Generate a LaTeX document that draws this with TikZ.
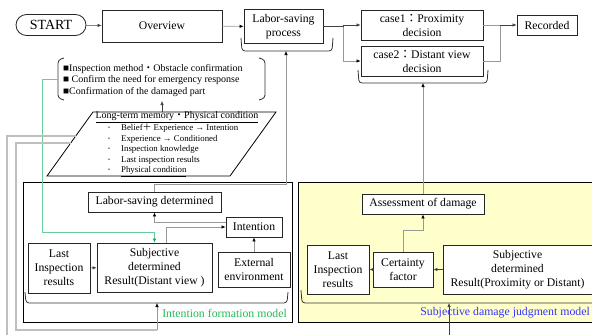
\documentclass[tikz,border=0pt]{standalone}
\usepackage{fontspec}
\setmainfont{Liberation Serif}
\newfontfamily\cjk{Noto Sans CJK JP}
\usetikzlibrary{arrows.meta,calc}

\definecolor{panelyellow}{HTML}{FFFFCC}
\definecolor{linegreen}{HTML}{66CC99}
\definecolor{arrowgreen}{HTML}{11AA55}
\definecolor{textgreen}{HTML}{22BB55}
\definecolor{textblue}{HTML}{3333FF}
\newcommand\itemdot{\makebox[13pt][l]{\raisebox{0.8pt}{\fontsize{5.5}{6}\selectfont•}}}

\tikzstyle{box}=[draw=black!85, line width=0.8pt, fill=white, align=center, inner sep=0pt, font=\fontsize{11.7}{14}\selectfont]
\tikzstyle{terminal}=[box, rounded corners=10.5pt, font=\fontsize{14}{16}\selectfont]
\tikzstyle{flow}=[draw=black!75, line width=0.6pt, -{Latex[length=4pt,width=3.4pt]}]
\tikzstyle{feed}=[draw=black!40, line width=0.6pt, -{Latex[length=4pt,width=3.4pt,color=black]}]
\tikzstyle{plain}=[draw=black!40, line width=0.6pt]
\tikzstyle{loop}=[draw=black!25, line width=1.1pt]
\tikzstyle{greenflow}=[draw=linegreen, line width=0.6pt, -{Latex[length=4pt,width=3.4pt,color=arrowgreen]}]
\tikzstyle{bracket}=[draw=black!80, line width=0.8pt, rounded corners=3pt]
\tikzstyle{modellabel}=[inner sep=0pt, anchor=east, font=\fontsize{11.8}{14}\selectfont]

\begin{document}
\begin{tikzpicture}[x=1pt, y=-1pt]
    \useasboundingbox (0,0) rectangle (592,335);
% Panels
    \fill[panelyellow] (298,182) rectangle (592,322);
    \draw[line width=0.8pt] (592,182) -- (298,182) -- (298,322) -- (592,322);
    \draw[line width=0.8pt] (23,182) rectangle (292,322);
% Brackets
    \draw[bracket] (241,38) -- (242,51) -- (332,51) -- (333,38);
    \draw[bracket] (358,70) -- (359,83) -- (487,83) -- (488,70);
    \draw[bracket] (64,58) -- (58,60) -- (58,98) -- (64,100);
    \draw[bracket] (259,58) -- (265,60) -- (265,98) -- (259,100);
    \draw[bracket] (25,292) -- (26,303) -- (287,303) -- (288,292);
    \draw[bracket] (301,290) -- (302,303) -- (595,303);
    \coordinate (lbrk) at (286,51);
    \coordinate (cbrk) at (423,83);
    \coordinate (listleft) at (58,79);
    \coordinate (listbot) at (162,101);
    \coordinate (ibrk) at (157,303);
    \coordinate (jbrk) at (449,303);
    \coordinate (jin) at (449,335);
% Top row
    \node[terminal, minimum width=70pt, minimum height=21pt] (start) at (51,25) {START};
    \node[box, minimum width=120pt, minimum height=32pt] (overview) at (162,26) {Overview};
    \node[box, minimum width=79pt, minimum height=34pt] (labor) at (283.5,26.5) {Labor-saving\\process};
    \node[box, minimum width=122pt, minimum height=30pt] (case1) at (422,25) {case1{\cjk ：}Proximity\\decision};
    \node[box, minimum width=122pt, minimum height=30pt] (case2) at (422,61) {case2{\cjk ：}Distant view\\decision};
    \node[box, minimum width=60pt, minimum height=20pt] (recorded) at (547,25) {Recorded};
% Check list
    \node[anchor=north west, align=left, inner sep=0pt, font=\fontsize{10}{11.5}\selectfont] (checks) at (63,64)
        {■Inspection method{\cjk ・}Obstacle confirmation\\■ Confirm the need for emergency response\\■Confirmation of the damaged part};
% Long-term memory
    \draw[line width=0.8pt] (93,112) -- (276,112) -- (230,176) -- (47,176) -- cycle;
    \coordinate (ltmtop) at (162,112);
    \coordinate (ltmA) at (75.8,136);
    \coordinate (ltmB) at (70.7,143);
    \node[inner sep=0pt, font=\fontsize{10}{12}\selectfont] (ltmtitle) at (177,117)
        {\underline{Long-term memory{\cjk ・}Physical condition}};
    \node[anchor=north west, align=left, inner sep=0pt, font=\fontsize{8.8}{10.5}\selectfont] (ltmitems) at (108,124)
        {\itemdot Belief{\cjk ＋} Experience → Intention\\
         \itemdot Experience → Conditioned\\
         \itemdot Inspection knowledge\\
         \itemdot Last inspection results\\
         \itemdot \underline{Physical condition}};
% Intention formation model
    \node[box, minimum width=133pt, minimum height=20pt] (lsd) at (154.5,202) {Labor-saving determined};
    \node[box, minimum width=56pt, minimum height=20pt] (intent) at (254,227) {Intention};
    \node[box, minimum width=62pt, minimum height=50pt] (lir1) at (59,268) {Last\\Inspection\\results};
    \node[box, minimum width=115pt, minimum height=49pt] (subj1) at (154.5,267.5) {Subjective\\determined\\Result(Distant view )};
    \node[box, minimum width=72pt, minimum height=35pt] (ext) at (254,269.5) {External\\environment};
    \node[modellabel, text=textgreen] (iname) at (287,313) {Intention formation model};
% Subjective damage judgment model
    \node[box, minimum width=122pt, minimum height=20pt] (assess) at (423,204) {Assessment of damage};
    \node[box, minimum width=62pt, minimum height=49pt] (lir2) at (338,269.5) {Last\\Inspection\\results};
    \node[box, minimum width=60pt, minimum height=35pt] (cert) at (403,269.5) {Certainty\\factor};
    \node[box, minimum width=149pt, minimum height=49pt] (subj2) at (517.5,269.5) {Subjective\\determined\\Result(Proximity or Distant)};
    \node[modellabel, text=textblue] (jname) at (590,313) {Subjective damage judgment model};
% Connectors, top row
    \draw[flow] (start) -- (overview);
    \draw[feed] (overview) -- (labor);
    \coordinate (fork) at (343,26.5);
    \draw[flow] (labor.east) -- (fork) |- (case1.west);
    \draw[feed] (fork) |- (case2.west);
    \coordinate (join) at (500,25);
    \draw[plain] (case1.east) -- (join);
    \draw[plain] (case2.east) -| (join);
    \draw[flow] (join) -- (recorded.west);
% Connectors, memory and list
    \draw[flow] (ltmtop) -- (listbot);
    \draw[greenflow] (listleft) -- (42,79) -- (42,232) -| (subj1.north);
    \draw[loop] (ltmA) -- (7,136) -- (7,335);
    \draw[loop] (ltmB) -- (16,143) -- (16,330) -- (157,330);
    \draw[feed] (157,330) -- (ibrk);
% Connectors, intention formation
    \draw[flow] (lir1) -- (subj1);
    \draw[feed] ($(subj1.north)+(12,0)$) |- (intent.west);
    \draw[feed] ($(intent.west)+(0,-5)$) -| (lsd.south);
    \draw[feed] (ext) -- (intent);
    \draw[feed] (lsd.north) -- ++(0,-7) -| (lbrk);
% Connectors, damage judgment
    \draw[flow] (subj2) -- (cert);
    \draw[flow] (cert) -- (lir2);
    \draw[feed] (cert.north) -- ++(0,-21) -| (assess.south);
    \draw[feed] (assess.north) -- (cbrk);
    \draw[flow] (jin) -- (jbrk);
\end{tikzpicture}
\end{document}
